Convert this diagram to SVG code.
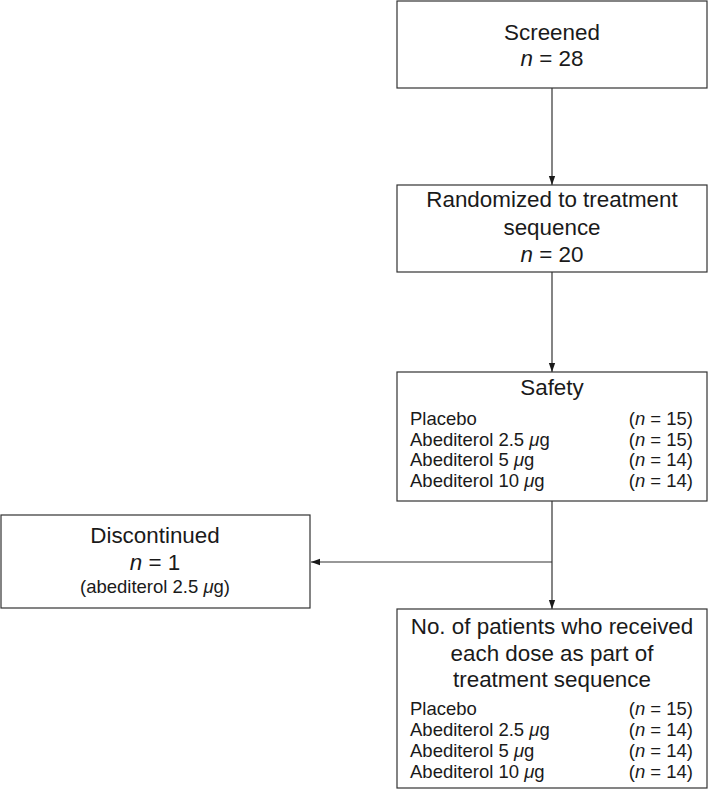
<svg xmlns="http://www.w3.org/2000/svg" width="709" height="798" viewBox="0 0 709 798">
<style>
.box{fill:#fff;stroke:#333;stroke-width:1.2}
text{font-family:"Liberation Sans",Arial,sans-serif;fill:#1a1a1a}
.t{font-size:22.4px;text-anchor:middle}
.s{font-size:18.5px}
.r{text-anchor:end}
.c{text-anchor:middle}
.line{stroke:#333;stroke-width:1.2;fill:none}
</style>
<defs>
<marker id="ah" viewBox="0 0 10 10" refX="10" refY="5" markerWidth="9" markerHeight="9" markerUnits="userSpaceOnUse" orient="auto">
<path d="M0,1.5 L10,5 L0,8.5 z" fill="#1a1a1a"/>
</marker>
</defs>
<rect width="709" height="798" fill="#fff"/>
<g id="connectors">
<line class="line" x1="552" y1="88" x2="552" y2="185" marker-end="url(#ah)"/>
<line class="line" x1="552" y1="272" x2="552" y2="372" marker-end="url(#ah)"/>
<line class="line" x1="552" y1="501" x2="552" y2="609" marker-end="url(#ah)"/>
<line class="line" x1="552" y1="562" x2="311" y2="562" marker-end="url(#ah)"/>
</g>
<g id="screened">
<rect class="box" x="397" y="1" width="310" height="87"/>
<text class="t" x="552" y="40">Screened</text>
<text class="t" x="552" y="66"><tspan font-style="italic">n</tspan> = 28</text>
</g>
<g id="randomized">
<rect class="box" x="397" y="185" width="310" height="87"/>
<text class="t" x="552" y="207">Randomized to treatment</text>
<text class="t" x="552" y="235">sequence</text>
<text class="t" x="552" y="262"><tspan font-style="italic">n</tspan> = 20</text>
</g>
<g id="safety">
<rect class="box" x="397" y="372" width="310" height="129"/>
<text class="t" x="552" y="395">Safety</text>
<text class="s" x="410" y="425">Placebo</text>
<text class="s" x="410" y="446">Abediterol 2.5 <tspan font-style="italic">μ</tspan>g</text>
<text class="s" x="410" y="466">Abediterol 5 <tspan font-style="italic">μ</tspan>g</text>
<text class="s" x="410" y="487">Abediterol 10 <tspan font-style="italic">μ</tspan>g</text>
<text class="s r" x="693" y="425">(<tspan font-style="italic">n</tspan> = 15)</text>
<text class="s r" x="693" y="446">(<tspan font-style="italic">n</tspan> = 15)</text>
<text class="s r" x="693" y="466">(<tspan font-style="italic">n</tspan> = 14)</text>
<text class="s r" x="693" y="487">(<tspan font-style="italic">n</tspan> = 14)</text>
</g>
<g id="discontinued">
<rect class="box" x="1" y="515" width="309" height="93"/>
<text class="t" x="155" y="543">Discontinued</text>
<text class="t" x="155" y="570"><tspan font-style="italic">n</tspan> = 1</text>
<text class="s c" x="155" y="593">(abediterol 2.5 <tspan font-style="italic">μ</tspan>g)</text>
</g>
<g id="received">
<rect class="box" x="397" y="609" width="310" height="179"/>
<text class="t" x="552" y="634">No. of patients who received</text>
<text class="t" x="552" y="661">each dose as part of</text>
<text class="t" x="552" y="687">treatment sequence</text>
<text class="s" x="410" y="715">Placebo</text>
<text class="s" x="410" y="736">Abediterol 2.5 <tspan font-style="italic">μ</tspan>g</text>
<text class="s" x="410" y="757">Abediterol 5 <tspan font-style="italic">μ</tspan>g</text>
<text class="s" x="410" y="778">Abediterol 10 <tspan font-style="italic">μ</tspan>g</text>
<text class="s r" x="693" y="715">(<tspan font-style="italic">n</tspan> = 15)</text>
<text class="s r" x="693" y="736">(<tspan font-style="italic">n</tspan> = 14)</text>
<text class="s r" x="693" y="757">(<tspan font-style="italic">n</tspan> = 14)</text>
<text class="s r" x="693" y="778">(<tspan font-style="italic">n</tspan> = 14)</text>
</g>
</svg>
